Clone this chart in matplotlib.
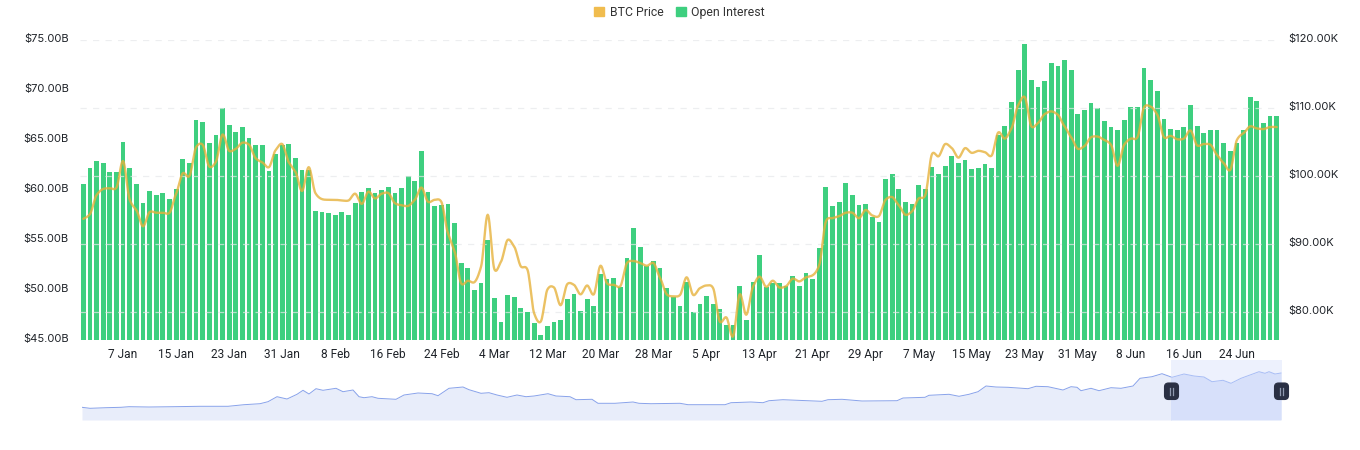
import numpy as np
import matplotlib
matplotlib.use("Agg")
import matplotlib.pyplot as plt
from matplotlib.patches import Patch, FancyBboxPatch, Rectangle
from matplotlib.transforms import ScaledTranslation

plt.rcParams['font.family'] = ['Inter', 'DejaVu Sans']

open_interest = [
 60.6,62.2,62.9,62.7,61.8,61.8,64.8,62.2,60.6,58.7,59.9,59.5,59.7,59.1,60.1,63.1,62.7,67.0,66.8,64.7,
 65.5,68.2,66.5,65.8,66.3,65.2,64.5,64.5,61.9,63.6,64.5,64.6,63.2,62.0,62.0,57.9,57.8,57.7,57.5,57.8,
 57.5,58.7,59.8,60.2,59.7,60.0,60.3,59.7,60.2,61.4,60.9,63.9,59.8,58.4,58.5,58.6,56.7,52.7,52.2,50.0,
 50.7,55.0,49.2,46.8,49.5,49.3,48.2,47.8,46.7,45.5,46.4,46.8,47.0,49.1,49.6,47.9,49.1,48.4,51.6,51.1,
 51.2,50.3,53.2,56.2,54.3,52.4,52.9,52.2,50.2,49.3,48.4,50.8,47.8,48.6,49.4,48.6,48.1,46.5,46.5,50.4,
 47.0,50.8,53.5,50.3,50.7,50.7,50.4,51.4,50.4,51.7,51.1,54.2,60.3,58.4,58.8,60.7,59.5,58.5,58.6,57.3,
 56.8,61.1,61.6,60.1,58.8,58.6,60.5,60.1,62.3,61.6,62.4,63.4,62.7,63.0,62.1,62.2,62.6,62.2,65.5,66.4,
 68.8,72.0,74.6,71.0,70.3,70.9,72.7,72.4,73.0,72.0,67.6,68.0,68.7,68.2,66.9,66.3,66.0,67.0,68.3,68.3,
 72.2,71.0,69.9,67.1,66.1,66.0,66.3,68.5,66.4,65.7,66.0,66.0,64.7,63.9,64.7,66.0,69.3,68.9,66.7,67.4,67.4]

btc_price = [
 93.7,94.4,97.2,98.1,98.2,98.3,102.2,96.5,95.0,92.6,94.7,94.6,94.6,94.6,97.4,100.4,100.0,104.2,104.6,101.4,
 102.1,106.1,103.7,104.0,104.9,104.6,102.6,102.0,101.3,103.8,104.7,102.0,100.6,97.8,101.3,97.5,96.6,96.5,96.5,96.4,
 96.4,97.4,95.9,97.7,96.7,97.4,97.5,96.0,95.7,95.6,96.5,98.3,96.2,96.5,96.2,91.6,88.9,84.2,84.6,84.4,
 86.7,94.3,86.3,87.4,90.6,89.6,86.7,86.2,79.8,78.6,83.3,83.6,81.0,84.1,84.0,82.6,83.9,82.6,86.8,84.2,
 84.0,83.8,87.2,87.5,87.2,86.8,87.2,85.0,82.6,82.3,82.5,85.1,82.5,83.5,83.9,83.5,78.6,79.2,76.4,82.6,
 79.6,83.7,85.2,83.7,84.6,83.6,83.8,84.9,84.5,85.1,85.4,86.9,93.3,93.8,94.1,94.6,94.6,93.8,95.0,94.2,
 94.1,96.5,96.9,95.7,94.3,94.8,96.7,97.2,103.2,102.9,104.7,104.1,102.7,104.1,103.4,103.7,103.5,103.0,106.4,105.5,
 107.0,110.4,111.6,107.3,107.8,109.1,109.5,109.0,107.3,105.7,104.0,104.4,105.7,105.8,105.3,104.6,101.5,104.6,105.5,105.7,
 110.1,110.2,109.0,105.7,105.9,105.4,105.5,106.7,104.5,104.7,104.6,103.1,101.9,100.9,105.3,106.3,107.3,107.0,106.9,107.2,107.2]

tick_labels = ["7 Jan","15 Jan","23 Jan","31 Jan","8 Feb","16 Feb","24 Feb","4 Mar","12 Mar","20 Mar","28 Mar",
               "5 Apr","13 Apr","21 Apr","29 Apr","7 May","15 May","23 May","31 May","8 Jun","16 Jun","24 Jun"]
oi_ticks = [45, 50, 55, 60, 65, 70, 75]
price_ticks = [80, 90, 100, 110, 120]

overview_index = [0,8,24,39,47,67,91,118,146,162,178,186,195,205,215,221,227,234,241,254,261,271,277,282,290,296,314,322,
 336,350,356,367,381,387,399,407,415,425,435,444,452,466,474,488,494,510,516,533,551,557,569,598,606,643,649,669,681,687,
 701,740,746,760,780,815,821,843,847,867,877,887,896,904,914,926,946,954,966,981,989,995,999,1009,1017,1029,1039,1051,
 1058,1070,1080,1090,1102,1112,1122,1130,1141,1149,1159,1177,1183,1187,1193,1199]
overview_value = [12.7,11.7,12.3,12.7,13.3,13,13.3,13.7,13.7,15.3,16.3,18.3,23.3,21,25.7,29.7,26,31.3,29.7,31.7,28.3,30,23.3,22.3,
 23.3,21.7,20.7,25,27,26.3,24.3,31.7,33,30.3,26.7,27.3,25,22.7,25,23.3,24,26.3,24,23.3,20.3,20.7,16.7,16.7,18,16.7,16.3,16.7,
 15.3,15.3,17.3,18,17.3,19.3,20.3,18.7,20.3,20.7,19,19.3,22,22.7,24.7,25.7,23.7,25.7,28.3,34,33,32.7,31.3,33.7,33.3,30,33.3,
 32.7,29.3,31.7,29.3,32.3,31.7,34,41.7,43.3,46.3,42.7,46,44,43,38.3,39.7,36.7,41.7,48.3,46.7,48.3,46,47]
window_start, window_end = 1089, 1200


def smooth(values, per=12):
    """Draw-time cubic through every daily value, as the chart's smoothed line does."""
    v = np.asarray(values, float)
    m = np.gradient(v) * 0.7
    xs, ys = [], []
    for i in range(len(v) - 1):
        t = np.linspace(0, 1, per, endpoint=False)
        h00, h10 = 2*t**3 - 3*t**2 + 1, t**3 - 2*t**2 + t
        h01, h11 = -2*t**3 + 3*t**2, t**3 - t**2
        xs.append(i + t)
        ys.append(h00*v[i] + h10*m[i] + h01*v[i+1] + h11*m[i+1])
    xs.append([len(v) - 1]); ys.append([v[-1]])
    return np.concatenate(xs), np.concatenate(ys)


W, H = 1360, 450
fig = plt.figure(figsize=(W/100, H/100), dpi=100, facecolor='white')
ax = fig.add_axes([80/W, 1-340/H, 1200/W, 300/H])
days = np.arange(len(open_interest))
GREEN, GOLD, TXT = '#3ECF7F', '#E6B23C', '#1f2329'

ax.bar(days, open_interest, width=0.72, color=GREEN, zorder=2)
ax.set_xlim(-0.5, len(days)-0.5)
ax.set_ylim(45, 75)
ax.set_yticks(oi_ticks, [f"${t:.2f}B" for t in oi_ticks])
ax.set_xticks(days[6::8], tick_labels)

ax2 = ax.twinx()
ax2.set_ylim(120 - 300/6.8, 120)
ax2.set_yticks(price_ticks, [f"${t:.2f}K" for t in price_ticks])
ax2.set_zorder(ax.get_zorder()+1)
ax2.patch.set_visible(False)
ax2.grid(axis='y', color='#e6e8ea', lw=0.9, ls=(0, (5, 5)), alpha=0.7, zorder=3)
ax2.set_axisbelow(False)
sx, sy = smooth(btc_price)
ax2.plot(sx, sy, color=GOLD, lw=1.7, alpha=0.8, zorder=4, solid_capstyle='round')

for s in ax.spines.values(): s.set_visible(False)
for s in ax2.spines.values(): s.set_visible(False)
ax.tick_params(axis='y', length=0, pad=8, labelsize=8, labelcolor=TXT)
ax.tick_params(axis='x', length=0, pad=5.5, labelsize=8.6, labelcolor=TXT)
ax2.tick_params(axis='y', length=0, pad=6, labelsize=8, labelcolor=TXT)
for lab in ax.get_xticklabels():
    lab.set_family(['Roboto', 'DejaVu Sans'])
up = ScaledTranslation(0, 1.2/72, fig.dpi_scale_trans)
for lab in ax.get_yticklabels() + ax2.get_yticklabels():
    lab.set_transform(lab.get_transform() + up)

ax.legend(handles=[Patch(color='#F0BC4E', label='BTC Price'), Patch(color=GREEN, label='Open Interest')],
          loc='lower center', bbox_to_anchor=(0.4995, 1.0), ncol=2, frameon=False,
          prop={'family': ['Roboto', 'DejaVu Sans'], 'size': 8.8}, labelcolor='#333333',
          handlelength=0.85, handleheight=0.85, handletextpad=0.45, columnspacing=1.0, borderaxespad=1.35)

# overview slider
ov = fig.add_axes([82/W, 1-420/H, 1200/W, 60/H])
ov.set_xlim(0, 1200); ov.set_ylim(0, 60); ov.axis('off')
window = Rectangle((window_start, 0), window_end-window_start, 60, color='#EDF1FD', lw=0, zorder=1)
ov.add_patch(window)
outside = Rectangle((0, 0), window_start, 60, transform=ov.transData)
ov.fill_between(overview_index, overview_value, color='#E8EDFA', lw=0, zorder=2).set_clip_path(outside)
ov.fill_between(overview_index, overview_value, color='#D7E0FA', lw=0, zorder=2).set_clip_path(window)
line_out, = ov.plot(overview_index, overview_value, color='#88A2EA', lw=0.7, zorder=3)
line_out.set_clip_path(outside)
line_in, = ov.plot(overview_index, overview_value, color='#A8BDF5', lw=0.7, zorder=3)
line_in.set_clip_path(window)
for xh in (window_start + 0.5, window_end - 0.5):
    ov.add_patch(FancyBboxPatch((xh-7, 20.5), 14, 16.5, boxstyle='round,pad=0,rounding_size=4',
                                fc='#2A3044', ec='#2A3044', lw=0.8, zorder=5, clip_on=False))
    for d in (-1.5, 1.5):
        ov.plot([xh+d, xh+d], [25, 32.5], color='#8F98AE', lw=0.9, zorder=6, clip_on=False)

fig.savefig('out.png', dpi=100)
